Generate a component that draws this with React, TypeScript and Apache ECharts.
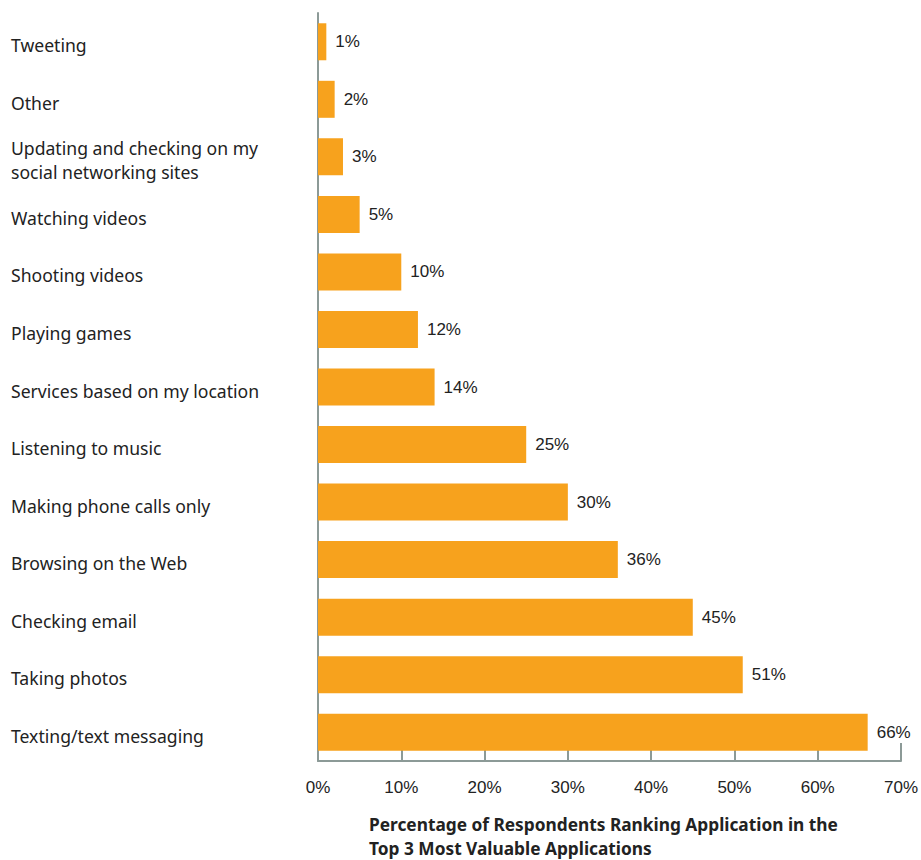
import React, { useEffect, useRef } from "react";
import * as echarts from "echarts";

const categories = [
  "Tweeting",
  "Other",
  "Updating and checking on my\nsocial networking sites",
  "Watching videos",
  "Shooting videos",
  "Playing games",
  "Services based on my location",
  "Listening to music",
  "Making phone calls only",
  "Browsing on the Web",
  "Checking email",
  "Taking photos",
  "Texting/text messaging",
];
const values = [1, 2, 3, 5, 10, 12, 14, 25, 30, 36, 45, 51, 66];
const axisTitle =
  "Percentage of Respondents Ranking Application in the\nTop 3 Most Valuable Applications";

export default function App() {
  const ref = useRef<HTMLDivElement>(null);
  useEffect(() => {
    if (!ref.current) return;
    const chart = echarts.init(ref.current, null, { renderer: "svg" });
    const axisColor = "#8C9A97";
    chart.setOption({
      animation: false,
      backgroundColor: "#ffffff",
      grid: { left: 318, right: 19, top: 13, bottom: 99, containLabel: false },
      title: {
        text: axisTitle,
        left: 369,
        top: 812,
        padding: [0, 0, 0, 0],
        textStyle: {
          fontFamily: "Noto Sans",
          fontWeight: "bold",
          fontSize: 17.3,
          lineHeight: 24,
          color: "#222222",
        },
      },
      xAxis: {
        type: "value",
        min: 0,
        max: 70,
        interval: 10,
        splitLine: { show: false },
        axisLine: { show: true, lineStyle: { color: axisColor, width: 2 } },
        axisTick: {
          show: true,
          inside: true,
          length: 18,
          lineStyle: { color: axisColor, width: 2 },
        },
        axisLabel: {
          formatter: "{value}%",
          margin: 18,
          fontFamily: "Liberation Sans",
          fontSize: 17,
          color: "#222222",
        },
      },
      yAxis: {
        type: "category",
        data: categories,
        inverse: true,
        axisLine: { show: true, lineStyle: { color: axisColor, width: 2 } },
        axisTick: { show: false },
        axisLabel: {
          align: "left",
          margin: 307,
          formatter: (v: string) =>
            "{g| }\n" +
            v
              .split("\n")
              .map((l) => `{t|${l}}`)
              .join("\n"),
          rich: {
            g: { lineHeight: 7, fontSize: 5 },
            t: {
              fontFamily: "Noto Sans",
              fontSize: 17.6,
              lineHeight: 24,
              color: "#222222",
            },
          },
        },
      },
      series: [
        {
          type: "bar",
          data: values,
          barWidth: 37,
          itemStyle: { color: "#F7A21D" },
          label: {
            show: true,
            position: "right",
            distance: 9,
            formatter: "{c}%",
            fontFamily: "Liberation Sans",
            fontSize: 17,
            color: "#222222",
          },
        },
      ],
    });
    return () => chart.dispose();
  }, []);
  return (
    <div
      ref={ref}
      style={{ position: "absolute", left: 0, top: 0, width: 921, height: 860 }}
    />
  );
}
